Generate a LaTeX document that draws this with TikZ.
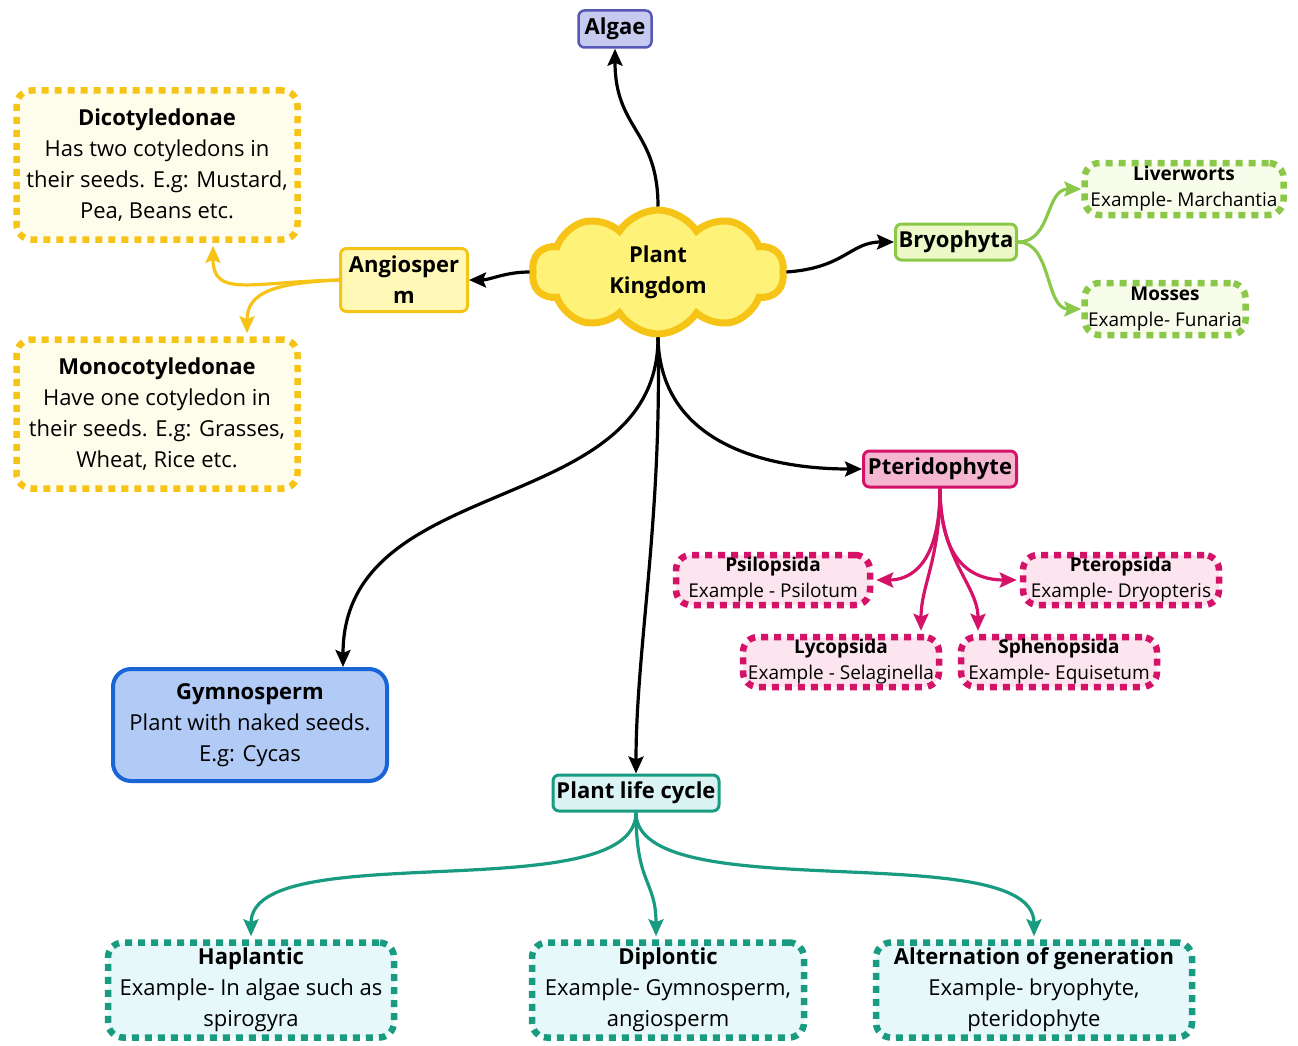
\documentclass[tikz,border=0pt]{standalone}
\usepackage{fontspec}
\setmainfont{Open Sans}
\usetikzlibrary{shapes.symbols,arrows.meta,calc}
\definecolor{algaefill}{RGB}{197,202,238}
\definecolor{algaedraw}{RGB}{85,88,180}
\definecolor{cloudfill}{RGB}{255,242,120}
\definecolor{yel}{RGB}{246,196,22}
\definecolor{yelfill}{RGB}{255,248,182}
\definecolor{yellight}{RGB}{254,253,236}
\definecolor{grn}{RGB}{139,200,74}
\definecolor{grnfill}{RGB}{236,248,200}
\definecolor{grnlight}{RGB}{248,252,234}
\definecolor{pnk}{RGB}{212,18,104}
\definecolor{pnkfill}{RGB}{245,183,208}
\definecolor{pnklight}{RGB}{252,229,238}
\definecolor{blu}{RGB}{25,100,215}
\definecolor{blufill}{RGB}{178,202,246}
\definecolor{teal}{RGB}{24,155,128}
\definecolor{tealfill}{RGB}{218,243,243}
\definecolor{teallight}{RGB}{230,248,250}
\newcommand{\bigf}{\fontsize{22}{31}\selectfont}
\newcommand{\smf}{\fontsize{19}{26}\selectfont}
\begin{document}
\begin{tikzpicture}[x=1pt,y=-1pt,
  solidbox/.style={rectangle, rounded corners=6pt, line width=3pt, inner sep=0pt, align=center, font=\bigf\bfseries},
  dashbox/.style={rectangle, rounded corners=15pt, line width=6.5pt, dash pattern=on 7pt off 6pt, inner sep=0pt, align=center},
  bigtxt/.style={font=\bigf},
  smtxt/.style={font=\smf},
  conn/.style={line width=3.2pt, -{Stealth[length=17pt,width=15pt,inset=3pt]}}
]
\useasboundingbox[fill=white] (0,0) rectangle (1298,1046);

% central cloud
\node[cloud, cloud puffs=10, cloud puff arc=115, aspect=2.1, draw=yel, fill=cloudfill, line width=7pt,
  minimum width=252pt, minimum height=124pt, inner sep=0pt, align=center, font=\bigf\bfseries] (pk) at (658,272) {Plant\\Kingdom};

% solid boxes
\node[solidbox, draw=algaedraw, fill=algaefill, line width=2.5pt, minimum width=73pt, minimum height=37pt] (algae) at (615,29) {Algae};
\node[solidbox, draw=yel, fill=yelfill, minimum width=127pt, minimum height=63pt] (angio) at (404,280) {Angiosper\\m};
\node[solidbox, draw=grn, fill=grnfill, minimum width=121pt, minimum height=36pt] (bryo) at (956,242) {Bryophyta};
\node[solidbox, draw=pnk, fill=pnkfill, minimum width=153pt, minimum height=36pt] (pteri) at (940,469) {Pteridophyte};
\node[solidbox, draw=blu, fill=blufill, line width=4pt, rounded corners=18pt, minimum width=274pt, minimum height=112pt, font=\bigf] (gymno) at (250,725) {\textbf{Gymnosperm}\\Plant with naked seeds.\\E.g: Cycas};
\node[solidbox, draw=teal, fill=tealfill, minimum width=166pt, minimum height=36pt] (plc) at (636,793) {Plant life cycle};

% yellow dashed boxes
\node[dashbox, draw=yel, fill=yellight, minimum width=281pt, minimum height=149pt, bigtxt] (dicot) at (157,165) {\textbf{Dicotyledonae}\\Has two cotyledons in\\their seeds. E.g: Mustard,\\Pea, Beans etc.};
\node[dashbox, draw=yel, fill=yellight, minimum width=281pt, minimum height=149pt, bigtxt] (mono) at (157,414) {\textbf{Monocotyledonae}\\Have one cotyledon in\\their seeds. E.g: Grasses,\\Wheat, Rice etc.};

% green dashed boxes
\node[dashbox, draw=grn, fill=grnlight, minimum width=199pt, minimum height=52pt, smtxt] (liver) at (1184,189) {\textbf{Liverworts}\\Example- Marchantia};
\node[dashbox, draw=grn, fill=grnlight, minimum width=161pt, minimum height=52pt, smtxt] (moss) at (1165,309) {\textbf{Mosses}\\Example- Funaria};

% pink dashed boxes
\node[dashbox, draw=pnk, fill=pnklight, minimum width=194pt, minimum height=50pt, smtxt] (psilo) at (773,580) {\textbf{Psilopsida}\\Example - Psilotum};
\node[dashbox, draw=pnk, fill=pnklight, minimum width=196pt, minimum height=50pt, smtxt] (ptero) at (1121,580) {\textbf{Pteropsida}\\Example- Dryopteris};
\node[dashbox, draw=pnk, fill=pnklight, minimum width=196pt, minimum height=50pt, smtxt] (lyco) at (841,662) {\textbf{Lycopsida}\\Example - Selaginella};
\node[dashbox, draw=pnk, fill=pnklight, minimum width=196pt, minimum height=50pt, smtxt] (spheno) at (1059,662) {\textbf{Sphenopsida}\\Example- Equisetum};

% teal dashed boxes
\node[dashbox, draw=teal, fill=teallight, minimum width=286pt, minimum height=95pt, bigtxt] (hapl) at (251,990) {\textbf{Haplantic}\\Example- In algae such as\\spirogyra};
\node[dashbox, draw=teal, fill=teallight, minimum width=272pt, minimum height=95pt, bigtxt] (dipl) at (668,990) {\textbf{Diplontic}\\Example- Gymnosperm,\\angiosperm};
\node[dashbox, draw=teal, fill=teallight, minimum width=316pt, minimum height=95pt, bigtxt] (alter) at (1034,990) {\textbf{Alternation of generation}\\Example- bryophyte,\\pteridophyte};

% black connectors
\draw[conn] (pk.north) .. controls (658,130) and (615,130) .. (algae.south);
\draw[conn] (pk.west) .. controls (505,272) and (490,280) .. (angio.east);
\draw[conn] (pk.east) .. controls (845,268) and (850,242) .. (bryo.west);
\draw[conn] (pk.south) .. controls (660,440) and (760,469) .. (pteri.west);
\draw[conn] (pk.south) .. controls (662,520) and (636,650) .. (plc.north);
\draw[conn] (pk.south) .. controls (658,520) and (343,470) .. ($(gymno.north)+(93,0)$);

% yellow connectors
\draw[conn, draw=yel] (angio.west) .. controls (250,282) and (213,298) .. ($(dicot.south)+(56,3)$);
\draw[conn, draw=yel] (angio.west) .. controls (275,283) and (247,292) .. ($(mono.north)+(90,-3)$);

% green connectors
\draw[conn, draw=grn] (bryo.east) .. controls (1052,242) and (1045,189) .. (liver.west);
\draw[conn, draw=grn] (bryo.east) .. controls (1052,242) and (1045,309) .. (moss.west);

% pink connectors
\draw[conn, draw=pnk] (pteri.south) .. controls (940,565) and (910,580) .. ($(psilo.east)+(3,0)$);
\draw[conn, draw=pnk] (pteri.south) .. controls (940,560) and (921,585) .. ($(lyco.north)+(80,-3)$);
\draw[conn, draw=pnk] (pteri.south) .. controls (940,560) and (978,585) .. ($(spheno.north)+(-81,-3)$);
\draw[conn, draw=pnk] (pteri.south) .. controls (940,565) and (975,580) .. ($(ptero.west)+(-3,0)$);

% teal connectors
\draw[conn, draw=teal] (plc.south) .. controls (636,910) and (251,835) .. ($(hapl.north)+(0,-3)$);
\draw[conn, draw=teal] (plc.south) .. controls (636,885) and (656,880) .. ($(dipl.north)+(-12,-3)$);
\draw[conn, draw=teal] (plc.south) .. controls (636,910) and (1034,835) .. ($(alter.north)+(0,-3)$);
\end{tikzpicture}
\end{document}
